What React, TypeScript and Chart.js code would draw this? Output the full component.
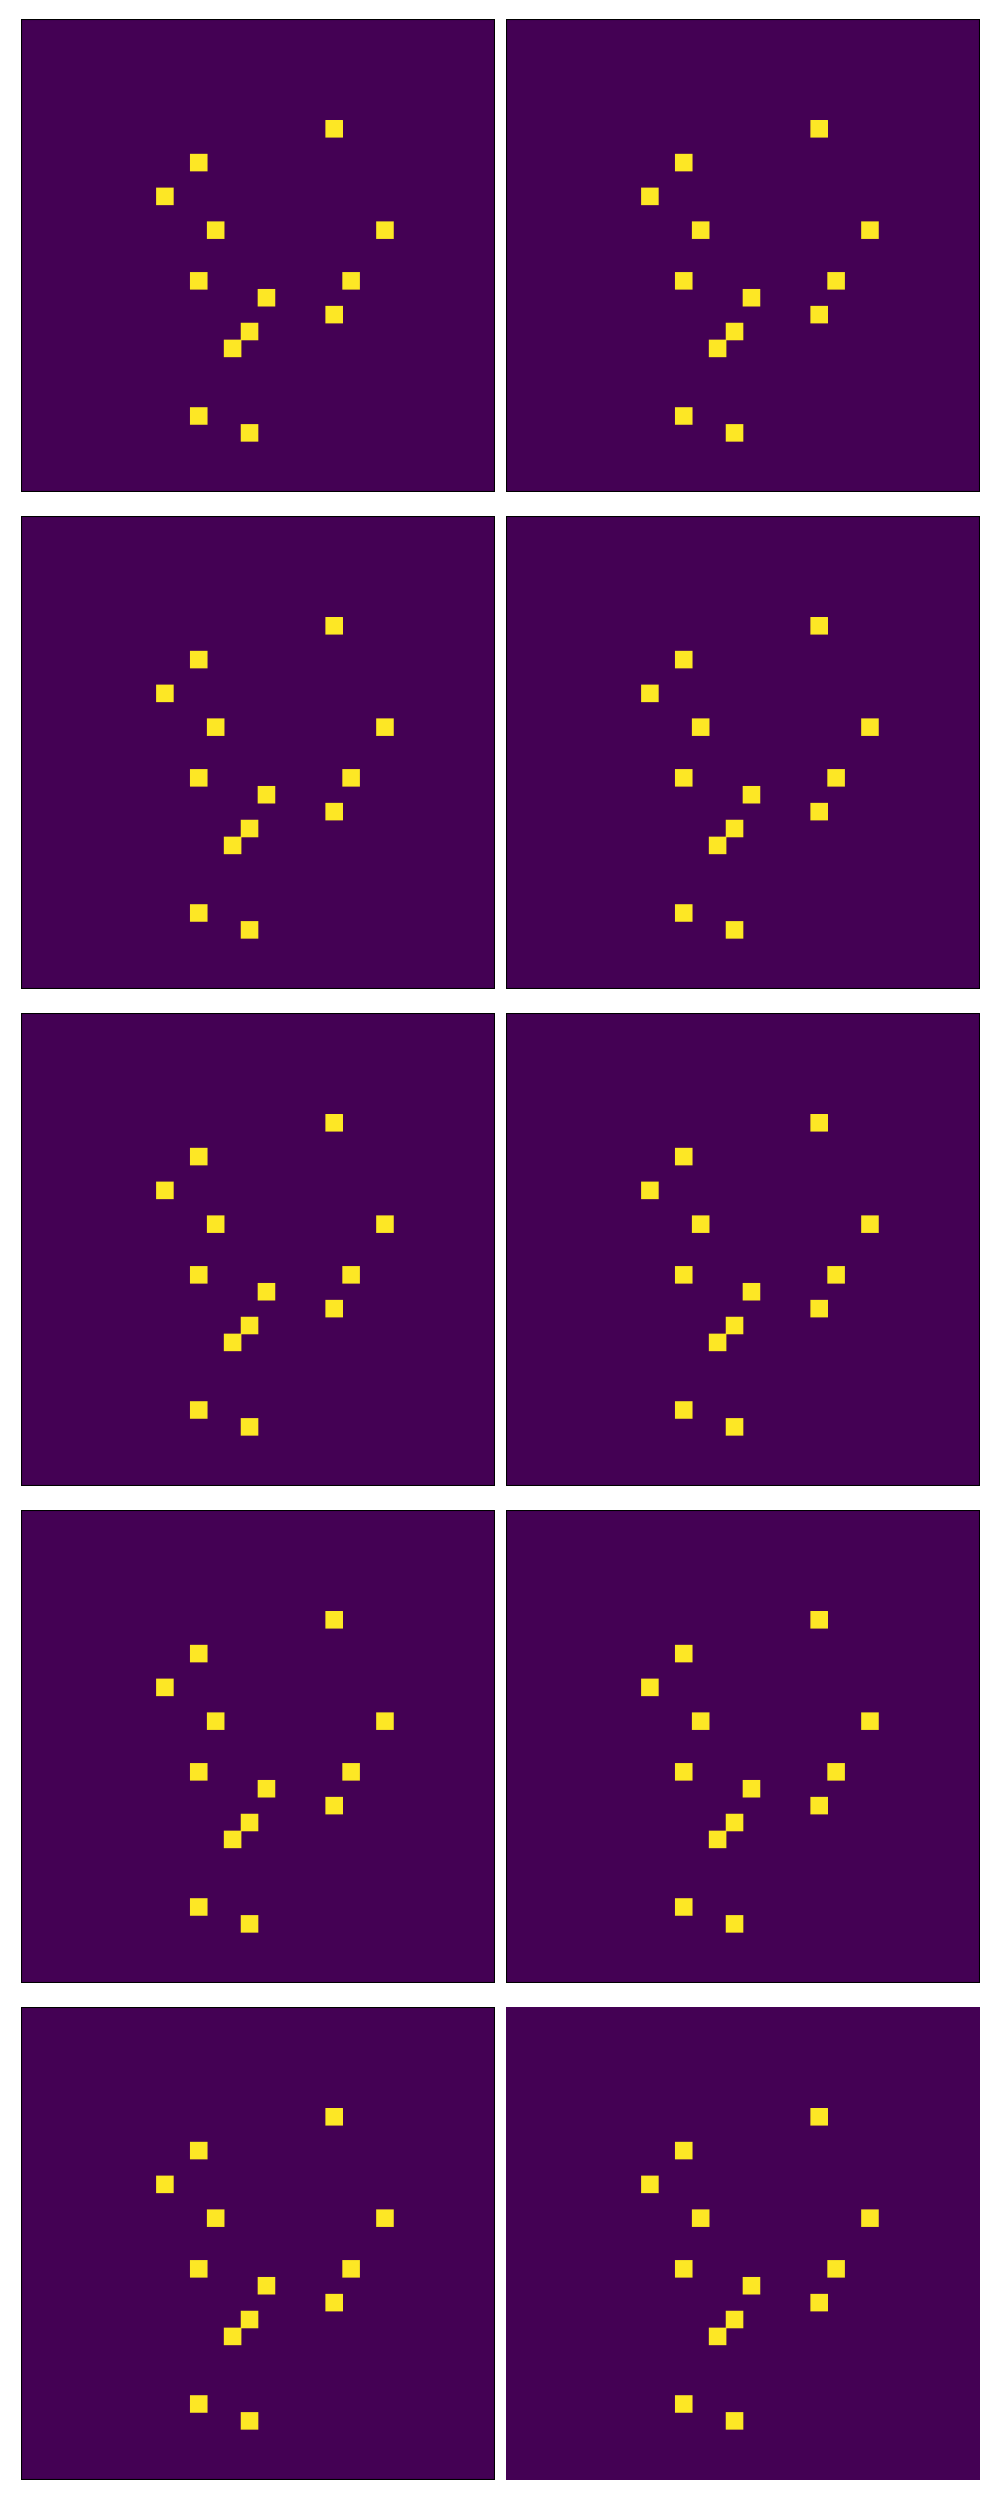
import React, { useEffect, useRef } from "react";
import { Chart, registerables } from "chart.js";

Chart.register(...registerables);

// Grid (image) column labels: a 28 x 28 binary image shown in every panel
const gridColumns = [
  "0", "1", "2", "3", "4", "5", "6", "7", "8", "9",
  "10", "11", "12", "13", "14", "15", "16", "17", "18", "19",
  "20", "21", "22", "23", "24", "25", "26", "27",
];
const gridRowCount = 28;

// Lit (value 1) pixels of the image: row index and column index
const litRows = [6, 8, 10, 12, 12, 15, 15, 16, 17, 18, 19, 23, 24];
const litCols = [18, 10, 8, 11, 21, 10, 19, 14, 18, 13, 12, 10, 13];

// Ten panels (5 rows x 2 columns); the last one is drawn without a frame
const panelFrames = [true, true, true, true, true, true, true, true, true, false];

const LOW_COLOR = "#440154";
const HIGH_COLOR = "#fde725";

const imagePlugin = {
  id: "imageFrame",
  beforeDraw(chart: any) {
    const { ctx, chartArea } = chart;
    ctx.save();
    ctx.fillStyle = LOW_COLOR;
    ctx.fillRect(chartArea.left, chartArea.top, chartArea.width, chartArea.height);
    ctx.restore();
  },
  afterDraw(chart: any, _args: any, opts: any) {
    if (!opts || !opts.show) return;
    const { ctx, chartArea } = chart;
    ctx.save();
    ctx.strokeStyle = "#000000";
    ctx.lineWidth = 1.1;
    ctx.strokeRect(
      chartArea.left + 0.5,
      chartArea.top + 0.5,
      chartArea.width - 1,
      chartArea.height - 1
    );
    ctx.restore();
  },
};

const PANEL_W = 474;
const PANEL_H = 473;
const COL_LEFT = [21, 506];
const ROW_TOP0 = 19;
const ROW_PITCH = 497;

function Panel({ index }: { index: number }) {
  const ref = useRef<HTMLCanvasElement | null>(null);
  useEffect(() => {
    if (!ref.current) return;
    const chart = new Chart(ref.current, {
      type: "bar",
      data: {
        labels: gridColumns,
        datasets: [
          {
            data: litCols.map((c, i) => ({
              x: gridColumns[c],
              y: [litRows[i], litRows[i] + 1],
            })) as any,
            backgroundColor: HIGH_COLOR,
            borderWidth: 0,
            barPercentage: 1,
            categoryPercentage: 1,
          },
        ],
      },
      options: {
        responsive: false,
        maintainAspectRatio: false,
        animation: false,
        events: [],
        layout: { padding: 0 },
        plugins: {
          legend: { display: false },
          tooltip: { enabled: false },
          imageFrame: { show: panelFrames[index] },
        } as any,
        scales: {
          x: { type: "category", display: false, offset: true, grid: { display: false } },
          y: {
            type: "linear",
            min: 0,
            max: gridRowCount,
            reverse: true,
            display: false,
            grid: { display: false },
          },
        },
      },
      plugins: [imagePlugin],
    });
    return () => chart.destroy();
  }, [index]);

  const col = index % 2;
  const row = Math.floor(index / 2);
  return (
    <canvas
      ref={ref}
      width={PANEL_W}
      height={PANEL_H}
      style={{
        position: "absolute",
        left: COL_LEFT[col],
        top: ROW_TOP0 + row * ROW_PITCH,
        width: PANEL_W,
        height: PANEL_H,
      }}
    />
  );
}

export default function App() {
  return (
    <div
      style={{
        position: "absolute",
        left: 0,
        top: 0,
        width: 1000,
        height: 2500,
        background: "#ffffff",
      }}
    >
      {panelFrames.map((_, i) => (
        <Panel key={i} index={i} />
      ))}
    </div>
  );
}
